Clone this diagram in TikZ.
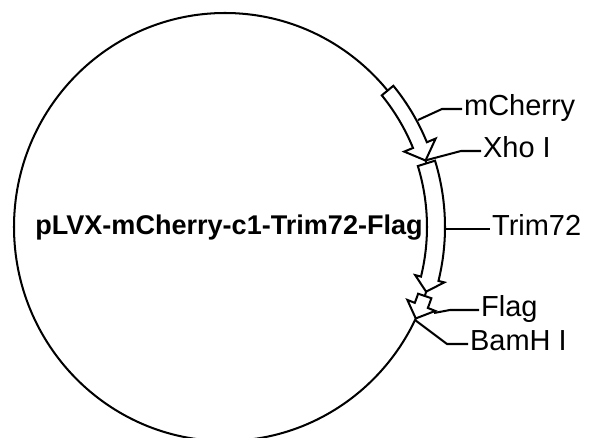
\documentclass[tikz,border=0pt]{standalone}
\usepackage{fontspec}
\setmainfont{Liberation Sans}

% arc arrow on the plasmid: tail, head base, tip, half width, head half width
\newcommand{\featarrow}[5]{%
  \draw[feature] plot[domain=#1:#2,samples=30] ({225+(211+#4)*cos(\x)},{227-(214+#4)*sin(\x)})
    -- ({225+(211+#5)*cos(#2)},{227-(214+#5)*sin(#2)})
    -- ({225+211*cos(#3)},{227-214*sin(#3)})
    -- ({225+(211-#5)*cos(#2)},{227-(214-#5)*sin(#2)})
    -- plot[domain=#2:#1,samples=30] ({225+(211-#4)*cos(\x)},{227-(214-#4)*sin(\x)})
    -- cycle;}

\begin{document}
\begin{tikzpicture}[
    x=0.02cm, y=-0.02cm,
    backbone/.style={draw,line width=1.15pt},
    feature/.style={draw,fill=white,line width=1.15pt,line join=miter},
    leader/.style={draw,line width=1.15pt},
    lbl/.style={anchor=west,inner xsep=1pt,inner ysep=0pt,text height=1.38ex,text depth=0pt,font=\fontsize{16.5}{18}\selectfont},
    title/.style={anchor=base,inner sep=0pt,font=\bfseries\fontsize{15.4}{18}\selectfont}
]
    \useasboundingbox (0,0) rectangle (589,438);
    \clip (0,0) rectangle (589,438);

    % Plasmid backbone
    \draw[backbone] (225,227) ellipse [x radius=211, y radius=214];

    % Features
    \featarrow{39.6}{22.5}{18.1}{7.5}{17}
    \featarrow{17.3}{-14}{-17.6}{9}{15}
    \featarrow{-18.8}{-21.5}{-25.3}{7}{15}

    % Define nodes
    \node[title] (plasmid) at (229,235) {pLVX-mCherry-c1-Trim72-Flag};
    \node[lbl] (mcherry) at (462,109) {mCherry};
    \node[lbl] (xhoi) at (481,151) {Xho I};
    \node[lbl] (trim) at (490,229) {Trim72};
    \node[lbl] (flag) at (479,310) {Flag};
    \node[lbl] (bamhi) at (468,344) {BamH I};

    % Sites and bends
    \coordinate (mchsite) at (418,120);
    \coordinate (mchbend) at (442,109);
    \coordinate (xhosite) at (427,160);
    \coordinate (xhobend) at (461,151);
    \coordinate (trimsite) at (445,229);
    \coordinate (flagsite) at (434,313);
    \coordinate (flagbend) at (450,310);
    \coordinate (bamsite) at (415,320);
    \coordinate (bambend) at (447,344);

    % Draw leaders
    \draw[leader] (mchsite) -- (mchbend) -- (mcherry.west);
    \draw[leader] (xhosite) -- (xhobend) -- (xhoi.west);
    \draw[leader] (trimsite) -- (trim.west);
    \draw[leader] (flagsite) -- (flagbend) -- (flag.west);
    \draw[leader] (bamsite) -- (bambend) -- (bamhi.west);
\end{tikzpicture}
\end{document}
